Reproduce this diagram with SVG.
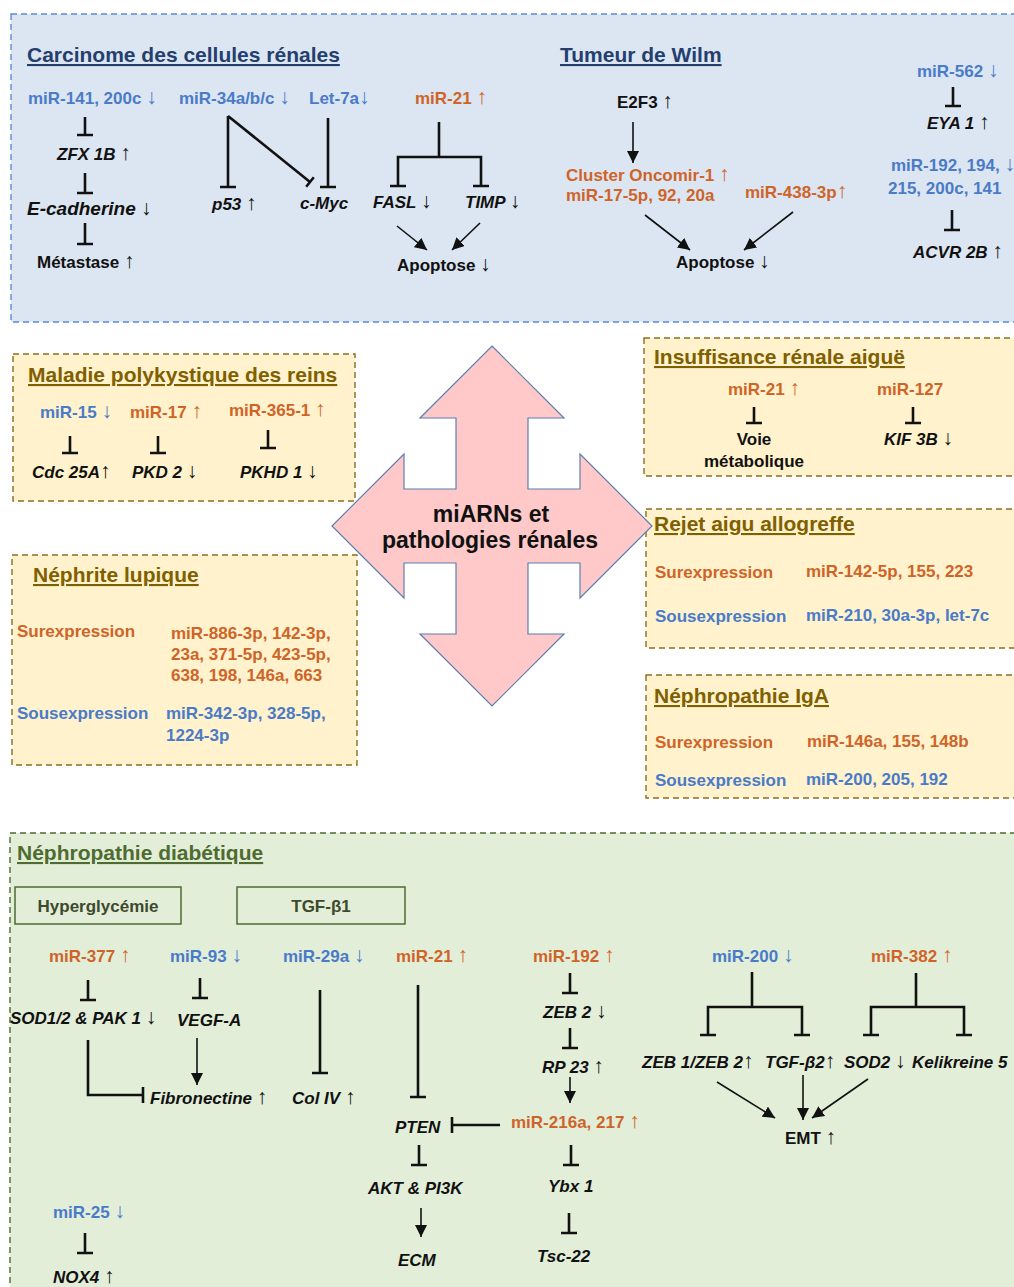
<svg xmlns="http://www.w3.org/2000/svg" width="1014" height="1287" viewBox="0 0 1014 1287">
<style>
text{font-family:"Liberation Sans",Arial,sans-serif;font-weight:bold;font-size:17px;fill:#111}
.b{fill:#4a7bc8}
.o{fill:#cf6428}
.i{font-style:italic}
.a{font-size:21px;font-weight:normal;font-style:normal}
.tt{font-size:21px;text-decoration:underline}
.tb{fill:#243f6e}
.ty{fill:#7f6000}
.tg{fill:#4e6b30}
.panel{stroke-width:1.4;stroke-dasharray:6 4}
.inh{stroke:#111;stroke-width:2.6;fill:none}
.arr{stroke:#111;stroke-width:1.6;fill:none;marker-end:url(#ah)}
.gbox{fill:none;stroke:#4e6b30;stroke-width:1.5}
</style>
<defs>
<marker id="ah" markerWidth="12" markerHeight="12" refX="10" refY="5" orient="auto" markerUnits="userSpaceOnUse" viewBox="0 0 10 10">
<path d="M0,0 L10,5 L0,10 z" fill="#111"/>
</marker>
</defs>

<!-- panels -->
<g id="panel-top">
<rect x="11" y="14" width="1015" height="308" fill="#dce6f2" stroke="#5b8bd4" class="panel"/>
</g>
<g id="box-maladie">
<rect x="13" y="354" width="342" height="147" fill="#fff2cc" stroke="#8c6d1f" class="panel"/>
</g>
<g id="box-lupique">
<rect x="12" y="555" width="345" height="210" fill="#fff2cc" stroke="#8c6d1f" class="panel"/>
</g>
<g id="box-insuffisance">
<rect x="644" y="338" width="380" height="138" fill="#fff2cc" stroke="#8c6d1f" class="panel"/>
</g>
<g id="box-rejet">
<rect x="646" y="509" width="380" height="139" fill="#fff2cc" stroke="#8c6d1f" class="panel"/>
</g>
<g id="box-iga">
<rect x="646" y="675" width="380" height="123" fill="#fff2cc" stroke="#8c6d1f" class="panel"/>
</g>
<g id="panel-diab">
<rect x="10" y="833" width="1020" height="470" fill="#e3eed9" stroke="#4e6b30" class="panel"/>
</g>

<!-- central quad arrow -->
<g id="center">
<polygon points="492,346 564,418 528,418 528,489 580,489 580,454 652,526 580,598 580,563 528,563 528,634 564,634 492,706 420,634 456,634 456,563 404,563 404,598 332,526 404,454 404,489 456,489 456,418 420,418" fill="#ffc9c9" stroke="#5b7fb0" stroke-width="1.2"/>
<text x="491" y="522" text-anchor="middle" style="font-size:23px">miARNs et</text>
<text x="490" y="548" text-anchor="middle" style="font-size:23px">pathologies rénales</text>
</g>

<!-- connectors -->
<g id="connectors">
<path class="inh" d="M85,117V135M77,135H93M85,173V193M77,193H93M85,223V244M77,244H93"/>
<path class="inh" d="M228,116V187M220,187H236M228,116L310,182M306.2,186.7L313.8,177.3"/>
<path class="inh" d="M328,118V187M320,187H336"/>
<path class="inh" d="M439,122V157M398,186V157H481V186M390,186H406M473,186H489"/>
<line class="arr" x1="397" y1="226" x2="427" y2="250"/>
<line class="arr" x1="480" y1="223" x2="452" y2="250"/>
<line class="arr" x1="633" y1="122" x2="633" y2="163"/>
<line class="arr" x1="645" y1="215" x2="690" y2="250"/>
<line class="arr" x1="793" y1="212" x2="744" y2="250"/>
<path class="inh" d="M953,87V106M945,106H961M952,210V230M944,230H960"/>
<path class="inh" d="M70,436V453M62,453H78M158,436V453M150,453H166M268,430V448M260,448H276"/>
<path class="inh" d="M754,407V423M746,423H762M913,407V423M905,423H921"/>
<path class="inh" d="M88,980V1000M80,1000H96M200,978V998M192,998H208"/>
<path class="inh" d="M88,1040V1095H143M143,1087V1103"/>
<line class="arr" x1="197" y1="1038" x2="197" y2="1085"/>
<path class="inh" d="M320,990V1073M312,1073H328"/>
<path class="inh" d="M418,985V1097M410,1097H426"/>
<path class="inh" d="M500,1125H452M452,1117V1133"/>
<path class="inh" d="M419,1145V1165M411,1165H427"/>
<line class="arr" x1="421" y1="1208" x2="421" y2="1237"/>
<path class="inh" d="M85,1233V1253M77,1253H93"/>
<path class="inh" d="M570,973V993M562,993H578M570,1028V1048M562,1048H578"/>
<line class="arr" x1="570" y1="1077" x2="570" y2="1103"/>
<path class="inh" d="M571,1145V1165M563,1165H579M569,1213V1233M561,1233H577"/>
<path class="inh" d="M752,972V1007M708,1035V1007H802V1035M700,1035H716M794,1035H810"/>
<path class="inh" d="M916,973V1007M871,1035V1007H964V1035M863,1035H879M956,1035H972"/>
<line class="arr" x1="717" y1="1082" x2="775" y2="1118"/>
<line class="arr" x1="803" y1="1075" x2="803" y2="1120"/>
<line class="arr" x1="868" y1="1079" x2="812" y2="1118"/>
</g>

<g id="carcinome">
<text x="27" y="62" class="tt tb">Carcinome des cellules rénales</text>
<text x="28" y="104" class="b">miR-141, 200c <tspan class="a">↓</tspan></text>
<text x="179" y="104" class="b">miR-34a/b/c <tspan class="a">↓</tspan></text>
<text x="309" y="104" class="b">Let-7a<tspan class="a">↓</tspan></text>
<text x="415" y="104" class="o">miR-21  <tspan class="a">↑</tspan></text>
<text x="57" y="160" class="i">ZFX 1B <tspan class="a">↑</tspan></text>
<text x="27" y="215" class="i" style="font-size:19px">E-cadherine <tspan class="a">↓</tspan></text>
<text x="37" y="268">Métastase  <tspan class="a">↑</tspan></text>
<text x="212" y="210" class="i">p53 <tspan class="a">↑</tspan></text>
<text x="300" y="209" class="i">c-Myc</text>
<text x="373" y="208" class="i">FASL <tspan class="a">↓</tspan></text>
<text x="465" y="208" class="i">TIMP  <tspan class="a">↓</tspan></text>
<text x="397" y="271">Apoptose  <tspan class="a">↓</tspan></text>
</g>
<g id="wilm">
<text x="560" y="62" class="tt tb">Tumeur de Wilm</text>
<text x="617" y="108">E2F3 <tspan class="a">↑</tspan></text>
<text x="566" y="181" class="o">Cluster Oncomir-1 <tspan class="a">↑</tspan></text>
<text x="566" y="201" class="o">miR-17-5p, 92, 20a</text>
<text x="745" y="198" class="o">miR-438-3p<tspan class="a">↑</tspan></text>
<text x="676" y="268">Apoptose  <tspan class="a">↓</tspan></text>
<text x="917" y="77" class="b">miR-562  <tspan class="a">↓</tspan></text>
<text x="927" y="129" class="i">EYA 1  <tspan class="a">↑</tspan></text>
<text x="891" y="171" class="b">miR-192, 194, <tspan class="a">↓</tspan></text>
<text x="888" y="194" class="b">215, 200c, 141</text>
<text x="913" y="258" class="i">ACVR 2B <tspan class="a">↑</tspan></text>
</g>

<g id="maladie">
<text x="28" y="382" class="tt ty">Maladie polykystique des reins</text>
<text x="40" y="418" class="b">miR-15 <tspan class="a">↓</tspan></text>
<text x="130" y="418" class="o">miR-17  <tspan class="a">↑</tspan></text>
<text x="229" y="416" class="o">miR-365-1 <tspan class="a">↑</tspan></text>
<text x="32" y="478" class="i">Cdc 25A<tspan class="a">↑</tspan></text>
<text x="132" y="478" class="i">PKD 2 <tspan class="a">↓</tspan></text>
<text x="240" y="478" class="i">PKHD 1 <tspan class="a">↓</tspan></text>
</g>
<g id="lupique">
<text x="33" y="582" class="tt ty">Néphrite lupique</text>
<text x="17" y="637" class="o">Surexpression</text>
<text x="171" y="639" class="o">miR-886-3p, 142-3p,</text>
<text x="171" y="660" class="o">23a, 371-5p, 423-5p,</text>
<text x="171" y="681" class="o">638, 198, 146a, 663</text>
<text x="17" y="719" class="b">Sousexpression</text>
<text x="166" y="719" class="b">miR-342-3p, 328-5p,</text>
<text x="166" y="741" class="b">1224-3p</text>
</g>
<g id="insuffisance">
<text x="654" y="364" class="tt ty">Insuffisance rénale aiguë</text>
<text x="728" y="395" class="o">miR-21 <tspan class="a">↑</tspan></text>
<text x="877" y="395" class="o">miR-127</text>
<text x="754" y="445" text-anchor="middle">Voie</text>
<text x="754" y="467" text-anchor="middle">métabolique</text>
<text x="884" y="445" class="i">KIF 3B <tspan class="a">↓</tspan></text>
</g>
<g id="rejet">
<text x="654" y="531" class="tt ty">Rejet aigu allogreffe</text>
<text x="655" y="578" class="o">Surexpression</text>
<text x="806" y="577" class="o">miR-142-5p, 155, 223</text>
<text x="655" y="622" class="b">Sousexpression</text>
<text x="806" y="621" class="b">miR-210, 30a-3p, let-7c</text>
</g>
<g id="iga">
<text x="654" y="703" class="tt ty">Néphropathie IgA</text>
<text x="655" y="748" class="o">Surexpression</text>
<text x="807" y="747" class="o">miR-146a, 155, 148b</text>
<text x="655" y="786" class="b">Sousexpression</text>
<text x="806" y="785" class="b">miR-200, 205, 192</text>
</g>

<g id="diabetique">
<text x="17" y="860" class="tt tg">Néphropathie diabétique</text>
<g id="hyperglycemie">
<rect x="15" y="887" width="166" height="37" class="gbox"/>
<text x="98" y="912" text-anchor="middle" style="fill:#3d4a2c">Hyperglycémie</text>
</g>
<g id="tgfb1">
<rect x="237" y="887" width="168" height="37" class="gbox"/>
<text x="321" y="912" text-anchor="middle" style="fill:#3d4a2c">TGF-β1</text>
</g>
<text x="49" y="962" class="o">miR-377 <tspan class="a">↑</tspan></text>
<text x="170" y="962" class="b">miR-93 <tspan class="a">↓</tspan></text>
<text x="283" y="962" class="b">miR-29a <tspan class="a">↓</tspan></text>
<text x="396" y="962" class="o">miR-21 <tspan class="a">↑</tspan></text>
<text x="533" y="962" class="o">miR-192  <tspan class="a">↑</tspan></text>
<text x="712" y="962" class="b">miR-200  <tspan class="a">↓</tspan></text>
<text x="871" y="962" class="o">miR-382  <tspan class="a">↑</tspan></text>
<text x="10" y="1024" class="i">SOD1/2 &amp; PAK 1 <tspan class="a">↓</tspan></text>
<text x="177" y="1026" class="i">VEGF-A</text>
<text x="150" y="1104" class="i">Fibronectine <tspan class="a">↑</tspan></text>
<text x="292" y="1104" class="i">Col IV  <tspan class="a">↑</tspan></text>
<text x="395" y="1133" class="i">PTEN</text>
<text x="511" y="1128" class="o">miR-216a, 217 <tspan class="a">↑</tspan></text>
<text x="368" y="1194" class="i">AKT &amp; PI3K</text>
<text x="398" y="1266" class="i">ECM</text>
<text x="53" y="1218" class="b">miR-25  <tspan class="a">↓</tspan></text>
<text x="53" y="1283" class="i">NOX4  <tspan class="a">↑</tspan></text>
<text x="543" y="1018" class="i">ZEB 2 <tspan class="a">↓</tspan></text>
<text x="542" y="1073" class="i">RP 23  <tspan class="a">↑</tspan></text>
<text x="548" y="1192" class="i">Ybx 1</text>
<text x="537" y="1262" class="i">Tsc-22</text>
<text x="642" y="1068" class="i">ZEB 1/ZEB 2<tspan class="a">↑</tspan></text>
<text x="765" y="1068" class="i">TGF-β2<tspan class="a">↑</tspan></text>
<text x="844" y="1068" class="i">SOD2 <tspan class="a">↓</tspan></text>
<text x="912" y="1068" class="i">Kelikreine 5</text>
<text x="785" y="1144">EMT <tspan class="a">↑</tspan></text>
</g>
</svg>
